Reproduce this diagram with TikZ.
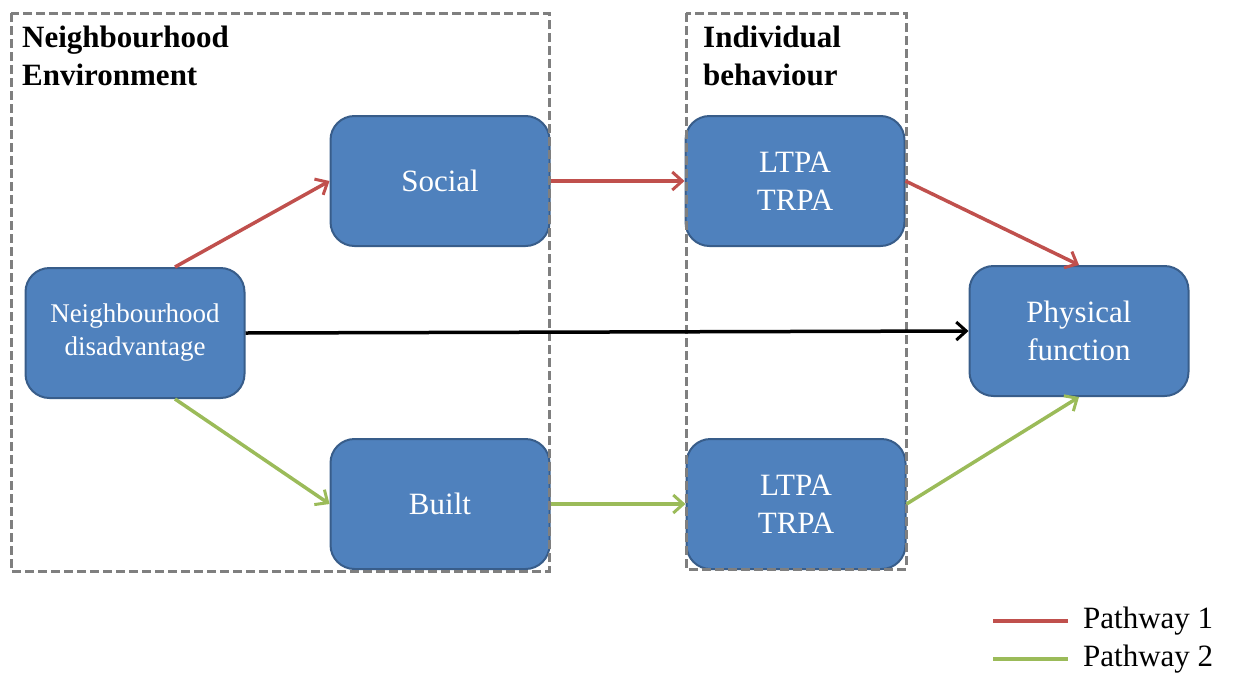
\documentclass[tikz,border=0pt]{standalone}
\usepackage{fontspec}
\setmainfont{Liberation Serif}
\usetikzlibrary{arrows.meta}
\definecolor{boxfill}{HTML}{4F81BD}
\definecolor{boxline}{HTML}{385D8A}
\definecolor{pathred}{HTML}{C0504D}
\definecolor{pathgreen}{HTML}{9BBB59}
\definecolor{framegray}{HTML}{7F7F7F}
\tikzset{
  factor/.style={draw=boxline, line width=2pt, fill=boxfill, rounded corners=24pt,
    minimum width=219pt, minimum height=130pt, inner sep=0pt, align=center,
    text=white, font=\fontsize{31}{38}\selectfont},
  group/.style={draw=framegray, line width=3pt, dash pattern=on 9pt off 4pt},
  heading/.style={anchor=north west, inner sep=0pt, align=left,
    font=\fontsize{31}{38}\selectfont\bfseries},
  link/.style={line width=3.5pt, -{Straight Barb[length=10pt,width=18pt,line width=3pt]}},
  legendtext/.style={anchor=west, inner sep=0pt, font=\fontsize{31}{36}\selectfont},
}
\begin{document}
\begin{tikzpicture}[x=1pt,y=-1pt]
\useasboundingbox (0,0) rectangle (1233,675);

% factor boxes
\node[factor, font=\fontsize{27}{33}\selectfont] (nd) at (135,333) {Neighbourhood\\disadvantage};
\node[factor] (social) at (440,181) {Social};
\node[factor] (built) at (440,504) {Built};
\node[factor] (ltpa1) at (795,181) {LTPA\\TRPA};
\node[factor] (ltpa2) at (796,504) {LTPA\\TRPA};
\node[factor] (pf) at (1079,331) {Physical\\function};

% grouping frames
\draw[group] (11,13) rectangle (549,571);
\draw[group] (686,13) rectangle (906,569);
\node[heading] (envhead) at (22,26) {Neighbourhood\\Environment};
\node[heading] (indhead) at (703,26) {Individual\\behaviour};

% pathway 1
\draw[link, pathred] ([xshift=40pt]nd.north) -- (social.west);
\draw[link, pathred] (social.east) -- (ltpa1.west);
\draw[link, pathred] (ltpa1.east) -- (pf.north);
% direct effect
\draw[link, black] (nd.east) -- (pf.west);
% pathway 2
\draw[link, pathgreen] ([xshift=40pt]nd.south) -- (built.west);
\draw[link, pathgreen] (built.east) -- (ltpa2.west);
\draw[link, pathgreen] (ltpa2.east) -- (pf.south);

% legend
\coordinate (r1) at (993,621);
\coordinate (r2) at (1068,621);
\coordinate (g1) at (993,659);
\coordinate (g2) at (1068,659);
\draw[pathred, line width=3.5pt] (r1) -- (r2);
\draw[pathgreen, line width=3.5pt] (g1) -- (g2);
\node[legendtext] (p1) at (1083,621) {Pathway 1};
\node[legendtext] (p2) at (1083,659) {Pathway 2};
\end{tikzpicture}
\end{document}
